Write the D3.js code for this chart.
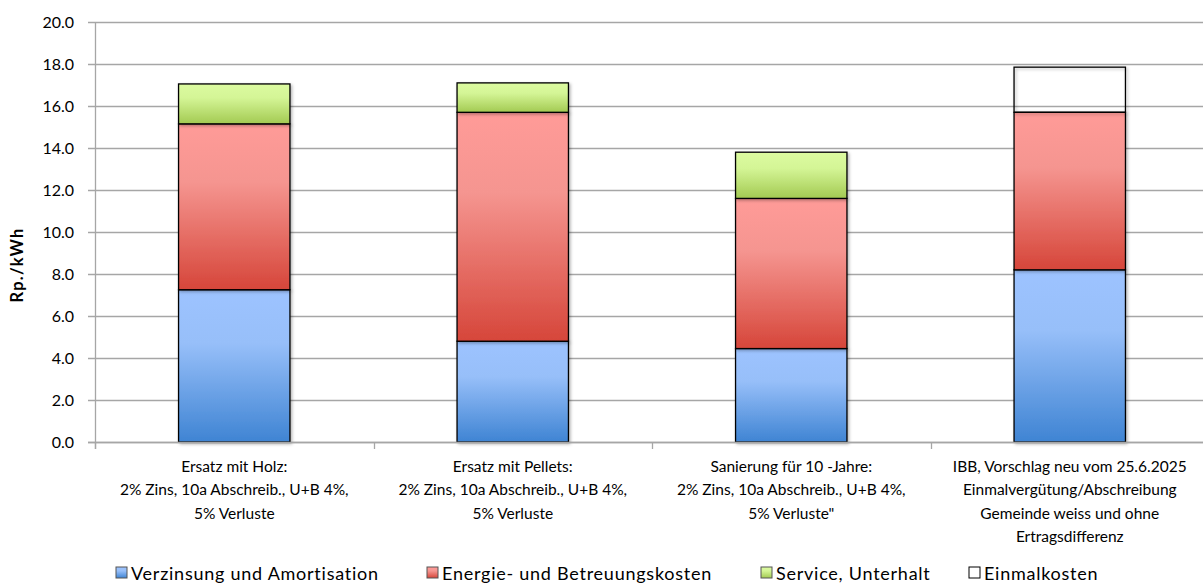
<!DOCTYPE html>
<html>
<head>
<meta charset="utf-8">
<script src="https://cdn.jsdelivr.net/npm/d3@7"></script>
<style>
  body { margin: 0; background: #fff; }
  svg { display: block; font-family: Lato, "Open Sans", sans-serif; }
</style>
</head>
<body>
<svg width="1203" height="583"></svg>
<script>
var categories = [
  ["Ersatz mit Holz:", "2% Zins, 10a Abschreib., U+B 4%,", "5% Verluste"],
  ["Ersatz mit Pellets:", "2% Zins, 10a Abschreib., U+B 4%,", "5% Verluste"],
  ["Sanierung für 10 -Jahre:", "2% Zins, 10a Abschreib., U+B 4%,", "5% Verluste\""],
  ["IBB, Vorschlag neu vom 25.6.2025", "Einmalvergütung/Abschreibung", "Gemeinde weiss und ohne", "Ertragsdifferenz"]
];
var seriesNames = ["Verzinsung und Amortisation", "Energie- und Betreuungskosten", "Service, Unterhalt", "Einmalkosten"];
var verzinsung = [7.25, 4.8, 4.45, 8.2];
var energie = [7.9, 10.9, 7.15, 7.5];
var service = [1.9, 1.4, 2.2, 0];
var einmal = [0, 0, 0, 2.15];
var yTicks = [0, 2, 4, 6, 8, 10, 12, 14, 16, 18, 20];

var svg = d3.select("svg");
var plotLeft = 95, plotRight = 1209, plotTop = 22, plotBottom = 442;

var x = d3.scaleBand().domain(d3.range(categories.length)).range([plotLeft, plotRight]).paddingInner(0.6).paddingOuter(0.3);
var y = d3.scaleLinear().domain([0, 20]).range([plotBottom, plotTop]);

// gradients
var defs = svg.append("defs");
var grads = [
  ["gBlue", "#9dc3ff", "#97bff9", "#3f84d3"],
  ["gRed", "#ff9b98", "#f59590", "#d6463a"],
  ["gGreen", "#dcfba0", "#d4f596", "#a3ca52"]
];
grads.forEach(function(g) {
  var lg = defs.append("linearGradient").attr("id", g[0]).attr("x1", 0).attr("y1", 0).attr("x2", 0).attr("y2", 1);
  lg.append("stop").attr("offset", "0%").attr("stop-color", g[1]);
  lg.append("stop").attr("offset", "35%").attr("stop-color", g[2]);
  lg.append("stop").attr("offset", "100%").attr("stop-color", g[3]);
});
var shadow = defs.append("filter").attr("id", "sh").attr("x", "-10%").attr("y", "-10%").attr("width", "130%").attr("height", "130%");
shadow.append("feDropShadow").attr("dx", 1.5).attr("dy", 1.5).attr("stdDeviation", 1.5).attr("flood-color", "#000").attr("flood-opacity", 0.3);

// gridlines
svg.append("g").selectAll("line").data(yTicks).enter().append("line")
  .attr("x1", plotLeft - 7).attr("x2", 1203)
  .attr("y1", function(d) { return Math.round(y(d)) + 0.5; })
  .attr("y2", function(d) { return Math.round(y(d)) + 0.5; })
  .attr("stroke", "#a6a6a6").attr("stroke-width", 1.3);

// y axis line
svg.append("line").attr("x1", plotLeft + 0.5).attr("x2", plotLeft + 0.5).attr("y1", plotTop).attr("y2", plotBottom + 7)
  .attr("stroke", "#a6a6a6").attr("stroke-width", 1.3);

// x tick marks at category boundaries
var step = x.step();
svg.append("g").selectAll("line").data(d3.range(categories.length + 1)).enter().append("line")
  .attr("x1", function(i) { return Math.round(plotLeft + i * step) + 0.5; })
  .attr("x2", function(i) { return Math.round(plotLeft + i * step) + 0.5; })
  .attr("y1", plotBottom).attr("y2", plotBottom + 7)
  .attr("stroke", "#a6a6a6").attr("stroke-width", 1.3);

// y labels
svg.append("g").selectAll("text").data(yTicks).enter().append("text")
  .attr("x", 74).attr("y", function(d) { return y(d) + 5.5; })
  .attr("text-anchor", "end").attr("font-size", 16).attr("fill", "#000")
  .text(function(d) { return d.toFixed(1); });

svg.append("text").attr("transform", "translate(23,265) rotate(-90)")
  .attr("text-anchor", "middle").attr("font-size", 16.5).attr("font-weight", "bold")
  .attr("letter-spacing", 1.2).text("Rp./kWh");

// stacked bars
var data = categories.map(function(c, i) {
  return { i: i, values: [verzinsung[i], energie[i], service[i], einmal[i]] };
});
var fills = ["url(#gBlue)", "url(#gRed)", "url(#gGreen)", "none"];
var stack = d3.stack().keys([0, 1, 2, 3]).value(function(d, k) { return d.values[k]; });
var layers = stack(data);

svg.append("g").selectAll("g").data(layers).enter().append("g")
  .attr("fill", function(d, k) { return fills[k]; })
  .selectAll("rect").data(function(d) { return d; }).enter().append("rect")
  .attr("x", function(d) { return x(d.data.i); })
  .attr("width", x.bandwidth())
  .attr("y", function(d) { return y(d[1]); })
  .attr("height", function(d) { return y(d[0]) - y(d[1]); })
  .attr("stroke", "#000").attr("stroke-width", 1.3)
  .attr("filter", function(d) { return d[1] - d[0] > 0 ? "url(#sh)" : null; });

// bottom axis line
svg.append("line").attr("x1", plotLeft - 7).attr("x2", 1203).attr("y1", plotBottom + 0.5).attr("y2", plotBottom + 0.5)
  .attr("stroke", "#a6a6a6").attr("stroke-width", 1.3);

// category labels
var cl = svg.append("g").selectAll("text").data(categories).enter().append("text")
  .attr("x", function(d, i) { return x(i) + x.bandwidth() / 2; })
  .attr("text-anchor", "middle").attr("font-size", 15.5).attr("fill", "#000");
cl.selectAll("tspan").data(function(d) { return d; }).enter().append("tspan")
  .attr("x", function() { return d3.select(this.parentNode).attr("x"); })
  .attr("y", function(d, j) { return 472 + j * 23.3; })
  .text(function(d) { return d; });

// legend
var legendX = [116, 427, 761, 969];
var legendFill = ["url(#gBlue)", "url(#gRed)", "url(#gGreen)", "#fff"];
var lg = svg.append("g").selectAll("g").data(seriesNames).enter().append("g")
  .attr("transform", function(d, i) { return "translate(" + legendX[i] + ",567)"; });
lg.append("rect").attr("width", 11).attr("height", 11).attr("y", 0)
  .attr("fill", function(d, i) { return legendFill[i]; })
  .attr("stroke", function(d, i) { return i === 3 ? "#000" : "#555"; }).attr("stroke-width", 1);
lg.append("text").attr("x", 15).attr("y", 12.5).attr("font-size", 18).attr("letter-spacing", 0.75)
  .text(function(d) { return d; });
</script>
</body>
</html>
